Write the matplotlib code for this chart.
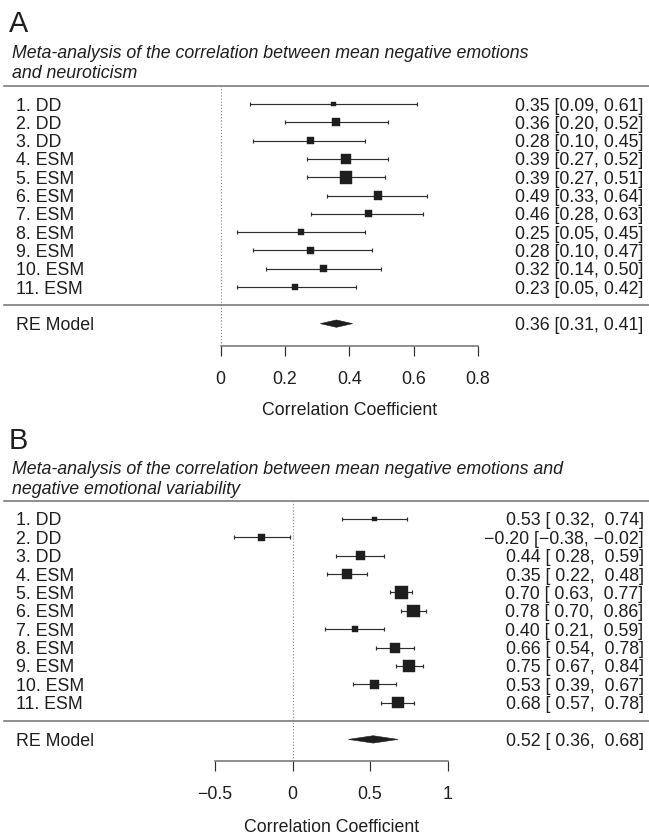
import matplotlib
matplotlib.use("Agg")
import matplotlib.pyplot as plt
import matplotlib.transforms as mtransforms
from matplotlib.patches import Polygon
import numpy as np

plt.rcParams['font.family'] = ['Liberation Sans', 'DejaVu Sans']
plt.rcParams['axes.unicode_minus'] = True

# ---------------- data ----------------
panel_letters = ["A", "B"]

title_a = ["Meta-analysis of the correlation between mean negative emotions",
           "and neuroticism"]
types_a = ["DD", "DD", "DD", "ESM", "ESM", "ESM", "ESM", "ESM", "ESM", "ESM", "ESM"]
est_a = [0.35, 0.36, 0.28, 0.39, 0.39, 0.49, 0.46, 0.25, 0.28, 0.32, 0.23]
lo_a = [0.09, 0.20, 0.10, 0.27, 0.27, 0.33, 0.28, 0.05, 0.10, 0.14, 0.05]
hi_a = [0.61, 0.52, 0.45, 0.52, 0.51, 0.64, 0.63, 0.45, 0.47, 0.50, 0.42]
weights_a = [5.6, 9.6, 8.0, 12.8, 15.2, 9.6, 8.0, 7.2, 8.0, 8.7, 7.2]
re_a = [0.36, 0.31, 0.41]
ticks_a = [0, 0.2, 0.4, 0.6, 0.8]

title_b = ["Meta-analysis of the correlation between mean negative emotions and",
           "negative emotional variability"]
types_b = ["DD", "DD", "DD", "ESM", "ESM", "ESM", "ESM", "ESM", "ESM", "ESM", "ESM"]
est_b = [0.53, -0.20, 0.44, 0.35, 0.70, 0.78, 0.40, 0.66, 0.75, 0.53, 0.68]
lo_b = [0.32, -0.38, 0.28, 0.22, 0.63, 0.70, 0.21, 0.54, 0.67, 0.39, 0.57]
hi_b = [0.74, -0.02, 0.59, 0.48, 0.77, 0.86, 0.59, 0.78, 0.84, 0.67, 0.78]
weights_b = [4.5, 6.4, 8.9, 9.6, 12.2, 11.5, 5.8, 9.6, 11.5, 8.9, 10.9]
re_b = [0.52, 0.36, 0.68]
ticks_b = [-0.5, 0, 0.5, 1]

summary_label = "RE Model"
x_label = "Correlation Coefficient"

# ---------------- style ----------------
W, H, DPI = 649, 834, 100
FS = 12.8
TXT = "#1e1e1e"
MARK = "#1e1e1e"
LINE = "#707070"
CI = "#2e2e2e"

fig = plt.figure(figsize=(W / DPI, H / DPI), dpi=DPI)


def fmt(v, width):
    return f"{v:{width}.2f}".replace("-", "\u2212")


def tick_fmt(v):
    return f"{v:g}".replace("-", "\u2212")


def panel(rect, xlim, ylim, letter, letter_base, title, title_base,
          types, est, lo, hi, weights, re, ticks, xlab_y):
    est = np.asarray(est); lo = np.asarray(lo); hi = np.asarray(hi)
    w = np.asarray(weights, dtype=float)
    k = len(est)
    ys = np.arange(k, 0, -1)

    ax = fig.add_axes(rect)
    ax.set_xlim(*xlim)
    ax.set_ylim(*ylim)
    trans = mtransforms.blended_transform_factory(ax.transAxes, ax.transData)

    # reference line at 0
    ax.axvline(0, color="#7a7a7a", lw=0.75, ls=(0, (1, 2)), zorder=1)
    # horizontal separators
    ax.axhline(k + 1, xmin=0.006, xmax=1, color=LINE, lw=1.1, zorder=1, clip_on=False)
    ax.axhline(0, xmin=0.006, xmax=1, color=LINE, lw=1.1, zorder=1)

    # CIs
    ax.errorbar(est, ys, xerr=[est - lo, hi - est], fmt='none', ecolor=CI,
                elinewidth=0.85, capsize=1.45, capthick=0.85, zorder=2)
    # squares (size linear in weight)
    smin, smax = 4.8, 12.8
    sides = smin + (smax - smin) * (w - w.min()) / (w.max() - w.min())
    ax.scatter(est, ys, s=(sides * 72 / DPI) ** 2, marker='s', c=MARK,
               edgecolors=MARK, linewidths=0.3, zorder=3)

    # summary diamond
    e, l, u = re
    h = 0.2
    ax.add_patch(Polygon([[l, -1], [e, -1 + h], [u, -1], [e, -1 - h]], closed=True,
                         fc=MARK, ec=MARK, lw=0.4, zorder=3))

    # texts
    width = 5 if (lo.min() < 0 or est.min() < 0) else 4
    for i, y in enumerate(ys):
        ax.text(15.7 / W, y, f"{i + 1}. {types[i]}", transform=trans, ha='left',
                va='center_baseline', fontsize=FS, color=TXT)
        s = f"{fmt(est[i], width)} [{fmt(lo[i], width)}, {fmt(hi[i], width)}]"
        ax.text(643.5 / W, y, s.strip(), transform=trans, ha='right',
                va='center_baseline', fontsize=FS, color=TXT)
    ax.text(15.7 / W, -1, summary_label, transform=trans, ha='left',
            va='center_baseline', fontsize=FS, color=TXT)
    s = f"{fmt(e, width)} [{fmt(l, width)}, {fmt(u, width)}]"
    ax.text(643.5 / W, -1, s.strip(), transform=trans, ha='right',
            va='center_baseline', fontsize=FS, color=TXT)

    # axis
    for sp in ['top', 'left', 'right']:
        ax.spines[sp].set_visible(False)
    ax.spines['bottom'].set_bounds(ticks[0], ticks[-1])
    ax.spines['bottom'].set_color(LINE)
    ax.spines['bottom'].set_linewidth(1.1)
    ax.set_yticks([])
    ax.set_xticks(ticks)
    ax.set_xticklabels([tick_fmt(t) for t in ticks])
    ax.tick_params(axis='x', direction='out', length=7.4, width=0.85, color=CI,
                   labelsize=FS, labelcolor=TXT, pad=11)
    ax.patch.set_visible(False)

    tx = mtransforms.blended_transform_factory(ax.transData, ax.transAxes)
    ax.text((ticks[0] + ticks[-1]) / 2, xlab_y, x_label, transform=tx, ha='center',
            va='center_baseline', fontsize=FS, color=TXT)

    # panel letter and title
    fig.text(9 / W, 1 - letter_base / H, letter, fontsize=20.8, color=TXT,
             ha='left', va='baseline')
    for line, yb in zip(title, title_base):
        fig.text(11.6 / W, 1 - yb / H, line, fontsize=FS, style='italic',
                 color=TXT, ha='left', va='baseline')
    return ax


# panel A: rows at 18.3 px, top line 85.7 px, axis 345.6 px
panel([0, 1 - 345.6 / H, 1, (345.6 - 85.7) / H],
      (-220.6 / 321.75, (W - 220.6) / 321.75), (-2.2, 12),
      panel_letters[0], 32, title_a, [58.3, 77.7],
      types_a, est_a, lo_a, hi_a, weights_a, re_a, ticks_a, -0.2401)

# panel B
panel([0, 1 - 760.9 / H, 1, (760.9 - 500.6) / H],
      (-292.6 / 155, (W - 292.6) / 155), (-2.17, 12),
      panel_letters[1], 449, title_b, [474.3, 494],
      types_b, est_b, lo_b, hi_b, weights_b, re_b, ticks_b, -0.2463)

fig.savefig("out.png", dpi=DPI)
